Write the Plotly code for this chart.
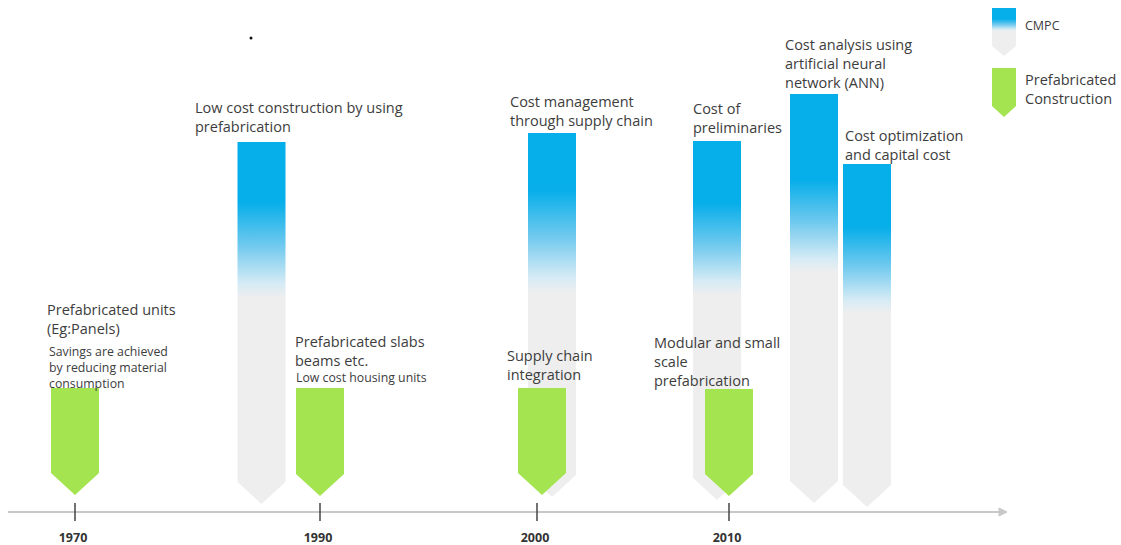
import plotly.graph_objects as go

# ---------------- data ----------------
tick_years = ["1970", "1990", "2000", "2010"]
tick_pos = [75, 320, 537, 729]          # position along the timeline

# Prefabricated construction milestones (green arrows)
prefab_pos = [75, 320, 542, 729]
prefab_top = [124, 124, 124, 123]       # height above timeline
prefab_tip = [17, 16, 17, 16]

# CMPC milestones (blue -> grey arrows)
cmpc_pos = [261.5, 552, 717, 814, 867]
cmpc_top = [370, 379, 371, 418, 348]
cmpc_tip = [8, 15, 12, 9, 5]
cmpc_blue_until = [310, 322, 309, 332, 285]   # fully blue above this height
cmpc_grey_below = [214, 219, 217, 239, 199]   # fully grey below this height

cmpc_titles = [
    "Low cost construction by using<br>prefabrication",
    "Cost management<br>through supply chain",
    "Cost of<br>preliminaries",
    "Cost analysis using<br>artificial neural<br>network (ANN)",
    "Cost optimization<br>and capital cost",
]
prefab_titles = [
    "Prefabricated units<br>(Eg:Panels)",
    "Prefabricated slabs<br>beams etc.",
    "Supply chain<br>integration",
    "Modular and small<br>scale<br>prefabrication",
]
prefab_notes = [
    "Savings are achieved<br>by reducing material<br>consumption",
    "Low cost housing units",
]
legend_labels = ["CMPC", "Prefabricated<br>Construction"]

# ---------------- styling / layout ----------------
W, H = 1121, 545
BASE = 512                      # pixel row of the timeline
BLUE = "#06aeea"
GREY = "#eeeeee"
GREEN = "#a4e450"
TXT = "#3d3d3d"
FONT = "Open Sans"
HALF = 24                       # half width of arrows
SHOULDER = 22
GRAD = [[0, GREY], [0.15, "#d6ebf5"], [0.55, "#6fc9ee"], [1, BLUE]]


def v(px_y):
    """pixel row -> axis value (height above timeline)"""
    return BASE - px_y


def arrow(cx, top, tip, half=HALF, shoulder=SHOULDER):
    xs = [cx - half, cx + half, cx + half, cx, cx - half, cx - half]
    ys = [top, top, tip + shoulder, tip, tip + shoulder, top]
    return xs, ys


fig = go.Figure()

# timeline axis
fig.add_trace(go.Scatter(x=[8, 1000], y=[0, 0], mode="lines",
                         line=dict(color="#c8c8c8", width=2), hoverinfo="skip"))
fig.add_trace(go.Scatter(x=[999, 1007, 999, 999], y=[4, 0, -4, 4], mode="lines",
                         fill="toself", fillcolor="#c8c8c8",
                         line=dict(color="#c8c8c8", width=1), hoverinfo="skip"))

# CMPC arrows
for cx, top, tip, b, g in zip(cmpc_pos, cmpc_top, cmpc_tip, cmpc_blue_until, cmpc_grey_below):
    xs, ys = arrow(cx, top, tip)
    fig.add_trace(go.Scatter(
        x=xs, y=ys, mode="lines", fill="toself", line=dict(width=0, color=GREY),
        fillgradient=dict(type="vertical", start=g, stop=b, colorscale=GRAD),
        hoverinfo="skip"))

# ticks
tx, ty = [], []
for p in tick_pos:
    tx += [p, p, None]
    ty += [9, -9, None]
fig.add_trace(go.Scatter(x=tx, y=ty, mode="lines", line=dict(color="#444444", width=1.5),
                         hoverinfo="skip"))
fig.add_trace(go.Scatter(x=[p - 2 for p in tick_pos], y=[-27] * len(tick_pos), mode="text",
                         text=[f"<b>{t}</b>" for t in tick_years],
                         textfont=dict(family=FONT, size=12.5, color="#333333"),
                         hoverinfo="skip"))

# Prefab arrows
for cx, top, tip in zip(prefab_pos, prefab_top, prefab_tip):
    xs, ys = arrow(cx, top, tip)
    fig.add_trace(go.Scatter(x=xs, y=ys, mode="lines", fill="toself", fillcolor=GREEN,
                             line=dict(width=0, color=GREEN), hoverinfo="skip"))

# legend icons
lx, ly = arrow(1004, v(8), v(56), half=12, shoulder=10)
fig.add_trace(go.Scatter(
    x=lx, y=ly, mode="lines", fill="toself", line=dict(width=0, color=GREY),
    fillgradient=dict(type="vertical", start=v(31), stop=v(19), colorscale=GRAD),
    hoverinfo="skip"))
gx, gy = arrow(1004, v(68), v(117), half=12, shoulder=11)
fig.add_trace(go.Scatter(x=gx, y=gy, mode="lines", fill="toself", fillcolor=GREEN,
                         line=dict(width=0, color=GREEN), hoverinfo="skip"))

# stray dot
fig.add_trace(go.Scatter(x=[251], y=[v(38)], mode="markers",
                         marker=dict(size=3, color="#111111"), hoverinfo="skip"))

# text annotations: (text, left x, first-line centre row, size)
ann_specs = [
    (prefab_titles[0], 46, 309, 14.5),
    (prefab_notes[0], 48, 351, 12.3),
    (cmpc_titles[0], 194, 107, 14.5),
    (prefab_titles[1], 294, 341, 14.5),
    (prefab_notes[1], 295, 377, 12.3),
    (cmpc_titles[1], 509, 101, 14.5),
    (prefab_titles[2], 506, 355, 14.5),
    (cmpc_titles[2], 692, 108, 14.5),
    (prefab_titles[3], 653, 342, 14.5),
    (cmpc_titles[3], 784, 44, 14.5),
    (cmpc_titles[4], 844, 135, 14.5),
    (legend_labels[0], 1024, 25, 12.5),
    (legend_labels[1], 1024, 79, 14.5),
]
annotations = []
for text, x, c1, size in ann_specs:
    top = c1 - size * 0.65 - 1
    annotations.append(dict(
        text=text, x=x, y=v(top), xref="x", yref="y", xanchor="left", yanchor="top",
        showarrow=False, align="left", borderpad=0,
        font=dict(family=FONT, size=size, color=TXT)))

fig.update_layout(
    width=W, height=H, autosize=False,
    margin=dict(l=0, r=0, t=0, b=0, pad=0),
    paper_bgcolor="white", plot_bgcolor="white",
    showlegend=False,
    xaxis=dict(range=[0, W], visible=False, fixedrange=True),
    yaxis=dict(range=[BASE - H, BASE], visible=False, fixedrange=True),
    annotations=annotations,
)

fig.write_html("out.html", config={"displayModeBar": False})
